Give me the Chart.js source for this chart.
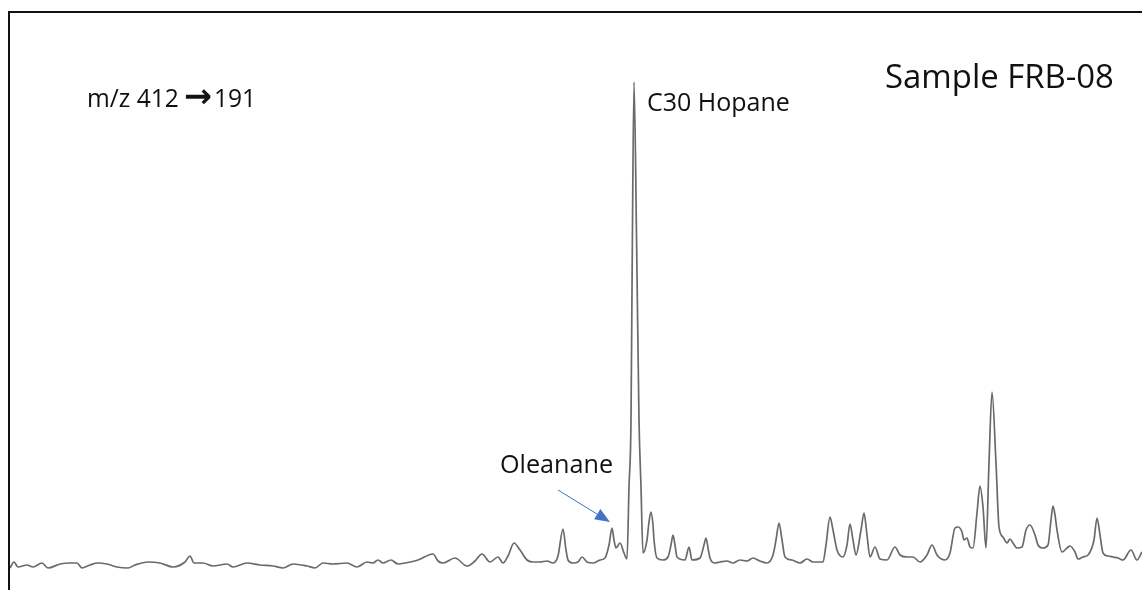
<!DOCTYPE html>
<html>
<head>
<meta charset="utf-8">
<script src="https://cdn.jsdelivr.net/npm/chart.js@4/dist/chart.umd.min.js"></script>
<style>
  body { margin: 0; background: #fff; }
  canvas { display: block; }
</style>
</head>
<body>
<canvas id="chrom" width="1142" height="590"></canvas>
<script>
// Retention (scan position) and detector response for the m/z 412->191 trace
const scanTimes = [
  10, 14, 18, 27, 33, 42, 48, 60, 70, 77, 82, 90, 98, 107, 117, 128, 135, 148, 160, 173,
  185, 190, 194, 203, 213, 227, 233, 247, 260, 273, 283, 293, 307, 315, 323, 333, 347, 357, 367, 373,
  378, 383, 391, 398, 405, 418, 433, 438, 443, 455, 467, 475, 482, 490, 498, 503, 508, 514, 520, 527,
  533, 540, 547, 553, 558, 563, 566, 568, 573, 578, 582, 587, 593, 598, 600, 605, 609, 612, 614, 616,
  620, 624, 627, 629, 631, 632.3, 634, 636.7, 639, 641, 643, 647, 649, 651, 653, 654, 657, 663, 668, 671,
  673, 675, 677, 685, 689, 692, 700, 704, 706, 708, 710, 715, 720, 727, 733, 740, 747, 753, 760, 767,
  773, 776, 779, 782, 785, 792, 800, 807, 813, 823, 826, 830, 833, 837, 843, 847, 850, 853, 856, 861,
  864, 867, 870, 875, 880, 887, 895, 900, 907, 913, 920, 927, 932, 937, 945, 950, 955, 958, 962, 964,
  967, 970, 973, 977, 980, 983, 986, 989, 992, 996, 999, 1003, 1007, 1010, 1013, 1017, 1022, 1026, 1030, 1035,
  1038, 1043, 1048, 1051, 1053, 1055, 1057, 1062, 1067, 1070, 1075, 1078, 1083, 1088, 1094, 1097, 1100, 1103, 1108, 1113,
  1118, 1123, 1131, 1137, 1142
];
const intensity = [
  12, 18, 13, 15, 13, 17, 12, 16, 17, 17, 12, 15, 17, 16, 13, 12, 15, 18, 17, 13,
  18, 24, 17, 17, 14, 16, 13, 17, 15, 14, 12, 16, 14, 12, 17, 16, 17, 13, 18, 17,
  20, 17, 20, 16, 17, 20, 26, 19, 17, 22, 14, 19, 26, 18, 23, 17, 24, 37, 30, 20,
  18, 18, 19, 17, 24, 51, 30, 20, 17, 18, 23, 18, 17, 19, 20, 22, 35, 52, 40, 32,
  37, 27, 21, 93, 160, 330, 498, 330, 160, 93, 27, 40, 58, 68, 55, 40, 22, 20, 23, 35,
  45, 35, 23, 20, 33, 20, 22, 35, 42, 32, 22, 17, 18, 19, 17, 20, 19, 22, 19, 17,
  25, 40, 57, 40, 23, 20, 17, 21, 18, 18, 35, 63, 50, 30, 23, 35, 56, 40, 25, 50,
  67, 45, 23, 33, 21, 20, 33, 25, 23, 23, 18, 25, 35, 25, 20, 27, 52, 53, 48, 40,
  42, 33, 32, 67, 94, 73, 32, 117, 188, 117, 53, 43, 37, 41, 37, 32, 33, 50, 55, 45,
  35, 32, 35, 60, 74, 65, 50, 28, 32, 34, 28, 21, 23, 25, 40, 62, 45, 27, 24, 23,
  22, 20, 30, 20, 28
];

// Peak labels
const hopaneLabel = 'C30 Hopane';
const oleananeLabel = 'Oleanane';
const oleananePeak = { scan: 612, response: 52 };
const transitionParts = ['m/z 412', '\u2192', '191'];
const sampleLabel = 'Sample FRB-08';

// Draw text so that it fills a given width (keeps the look of the original figure)
function fitText(ctx, text, x, baseline, width, family, weight) {
  const w = weight ? weight + ' ' : '';
  ctx.font = w + '20px ' + family;
  const size = 20 * width / ctx.measureText(text).width;
  ctx.font = w + size.toFixed(1) + 'px ' + family;
  ctx.fillText(text, x, baseline);
  return size;
}

const annotations = {
  id: 'annotations',
  beforeDraw(chart) {
    const ctx = chart.ctx;
    ctx.save();
    ctx.fillStyle = '#fff';
    ctx.fillRect(0, 0, chart.width, chart.height);
    // frame around the plot (only top and left are visible)
    ctx.strokeStyle = '#111';
    ctx.lineWidth = 2;
    ctx.beginPath();
    ctx.moveTo(9, chart.height);
    ctx.lineTo(9, 12);
    ctx.lineTo(chart.width, 12);
    ctx.stroke();
    ctx.restore();
  },
  afterDraw(chart) {
    const ctx = chart.ctx;
    const xs = chart.scales.x;
    const ys = chart.scales.y;
    const font = '"Open Sans", sans-serif';
    ctx.save();
    ctx.fillStyle = '#111';
    ctx.textBaseline = 'alphabetic';
    ctx.textAlign = 'left';
    const size = fitText(ctx, transitionParts[0], 87, 107, 92, font);
    fitText(ctx, transitionParts[1], 184, 107, 28, '"DejaVu Sans", sans-serif', 'bold');
    ctx.font = size.toFixed(1) + 'px ' + font;
    ctx.fillText(transitionParts[2], 214, 107);
    fitText(ctx, sampleLabel, 885, 88, 229, font);
    fitText(ctx, hopaneLabel, 647, 111, 143, font);
    fitText(ctx, oleananeLabel, 500, 473, 113, font);

    // blue arrow pointing to the oleanane peak
    const tipX = xs.getPixelForValue(oleananePeak.scan) - 2;
    const tipY = ys.getPixelForValue(oleananePeak.response) - 6;
    const startX = 558, startY = 490;
    const ang = Math.atan2(tipY - startY, tipX - startX);
    const headLen = 15, headW = 6;
    const baseX = tipX - headLen * Math.cos(ang);
    const baseY = tipY - headLen * Math.sin(ang);
    ctx.strokeStyle = '#4472C4';
    ctx.fillStyle = '#4472C4';
    ctx.lineWidth = 1;
    ctx.beginPath();
    ctx.moveTo(startX, startY);
    ctx.lineTo(baseX, baseY);
    ctx.stroke();
    ctx.beginPath();
    ctx.moveTo(tipX, tipY);
    ctx.lineTo(baseX + headW * Math.sin(ang), baseY - headW * Math.cos(ang));
    ctx.lineTo(baseX - headW * Math.sin(ang), baseY + headW * Math.cos(ang));
    ctx.closePath();
    ctx.fill();
    ctx.restore();
  }
};

new Chart(document.getElementById('chrom'), {
  type: 'line',
  data: {
    datasets: [{
      label: 'm/z 412\u2192191',
      data: scanTimes.map((t, i) => ({ x: t, y: intensity[i] })),
      borderColor: '#6a6a6a',
      borderWidth: 1.7,
      pointRadius: 0,
      fill: false,
      cubicInterpolationMode: 'monotone'
    }]
  },
  options: {
    responsive: false,
    animation: false,
    layout: { padding: { left: 10, right: 0, top: 10, bottom: 10 } },
    plugins: { legend: { display: false }, tooltip: { enabled: false } },
    scales: {
      x: { type: 'linear', min: 10, max: 1142, display: false },
      y: { min: 0, max: 570, display: false }
    }
  },
  plugins: [annotations]
});
</script>
</body>
</html>
